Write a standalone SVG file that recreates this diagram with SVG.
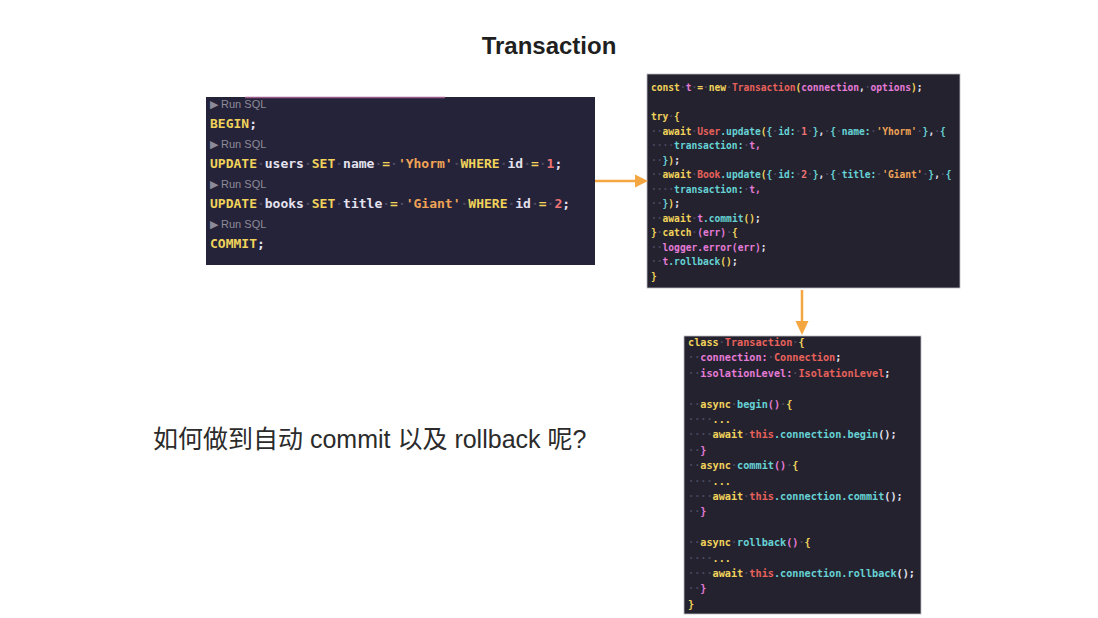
<svg xmlns="http://www.w3.org/2000/svg" width="1098" height="618" viewBox="0 0 1098 618">
<defs>
<style>
.title{font-family:"Liberation Sans","Noto Sans",sans-serif;font-size:24px;font-weight:bold;fill:#1f1f1f}
.q{font-family:"Liberation Sans","Noto Sans CJK SC",sans-serif;font-size:25px;fill:#2b2b2b}
.run{font-family:"Liberation Sans",sans-serif;font-size:11px;fill:#8d8b98}
.box{fill:#25233a}
.box2{fill:#24222f;stroke:#bdbdc4;stroke-width:0.8}
.sql{font-family:"DejaVu Sans Mono",monospace;font-size:13px;font-weight:bold;white-space:pre}
.js{font-family:"DejaVu Sans Mono",monospace;font-size:9.6px;font-weight:bold;white-space:pre}
.cls{font-family:"DejaVu Sans Mono",monospace;font-size:10.2px;font-weight:bold;white-space:pre}
.k{fill:#f1d35b}
.w{fill:#e4e2ee}
.p{fill:#e47bd6}
.r{fill:#e8615b}
.c{fill:#66d2d4}
.o{fill:#f0a355}
.n{fill:#ef7474}
.d{fill:#4a485f}
.arr{stroke:#f4a640;stroke-width:2.5;fill:none}
.head{fill:#f4a640}
</style>
</defs>
<rect width="1098" height="618" fill="#ffffff"/>
<text class="title" x="549" y="54" text-anchor="middle">Transaction</text>

<g id="sql-box">
<rect class="box" x="206" y="97" width="389" height="168"/>
<line x1="245" y1="97.5" x2="445" y2="97.5" stroke="#9a5a8a" stroke-width="1.5"/>
<text class="run" x="210" y="108">▶ Run SQL</text>
<text class="sql" x="210" y="128"><tspan class="k">BEGIN</tspan><tspan class="w">;</tspan></text>
<text class="run" x="210" y="148">▶ Run SQL</text>
<text class="sql" x="210" y="168"><tspan class="k">UPDATE</tspan><tspan class="d">·</tspan><tspan class="w">users</tspan><tspan class="d">·</tspan><tspan class="k">SET</tspan><tspan class="d">·</tspan><tspan class="w">name</tspan><tspan class="d">·</tspan><tspan class="k">=</tspan><tspan class="d">·</tspan><tspan class="o">'Yhorm'</tspan><tspan class="d">·</tspan><tspan class="k">WHERE</tspan><tspan class="d">·</tspan><tspan class="w">id</tspan><tspan class="d">·</tspan><tspan class="k">=</tspan><tspan class="d">·</tspan><tspan class="n">1</tspan><tspan class="w">;</tspan></text>
<text class="run" x="210" y="188">▶ Run SQL</text>
<text class="sql" x="210" y="208"><tspan class="k">UPDATE</tspan><tspan class="d">·</tspan><tspan class="w">books</tspan><tspan class="d">·</tspan><tspan class="k">SET</tspan><tspan class="d">·</tspan><tspan class="w">title</tspan><tspan class="d">·</tspan><tspan class="k">=</tspan><tspan class="d">·</tspan><tspan class="o">'Giant'</tspan><tspan class="d">·</tspan><tspan class="k">WHERE</tspan><tspan class="d">·</tspan><tspan class="w">id</tspan><tspan class="d">·</tspan><tspan class="k">=</tspan><tspan class="d">·</tspan><tspan class="n">2</tspan><tspan class="w">;</tspan></text>
<text class="run" x="210" y="228">▶ Run SQL</text>
<text class="sql" x="210" y="248"><tspan class="k">COMMIT</tspan><tspan class="w">;</tspan></text>
</g>

<g id="js-box">
<rect class="box2" x="647" y="74" width="313" height="214"/>
<text class="js" x="651" y="91"><tspan class="k">const</tspan><tspan class="d">·</tspan><tspan class="p">t</tspan><tspan class="d">·</tspan><tspan class="k">=</tspan><tspan class="d">·</tspan><tspan class="k">new</tspan><tspan class="d">·</tspan><tspan class="r">Transaction</tspan><tspan class="k">(</tspan><tspan class="p">connection</tspan><tspan class="w">,</tspan><tspan class="d">·</tspan><tspan class="p">options</tspan><tspan class="k">)</tspan><tspan class="w">;</tspan></text>
<text class="js" x="651" y="120"><tspan class="k">try</tspan><tspan class="d">·</tspan><tspan class="k">{</tspan></text>
<text class="js" x="651" y="134.5"><tspan class="d">··</tspan><tspan class="k">await</tspan><tspan class="d">·</tspan><tspan class="r">User</tspan><tspan class="c">.update</tspan><tspan class="k">(</tspan><tspan class="c">{</tspan><tspan class="d">·</tspan><tspan class="c">id:</tspan><tspan class="d">·</tspan><tspan class="n">1</tspan><tspan class="d">·</tspan><tspan class="c">}</tspan><tspan class="w">,</tspan><tspan class="d">·</tspan><tspan class="c">{</tspan><tspan class="d">·</tspan><tspan class="c">name:</tspan><tspan class="d">·</tspan><tspan class="o">'Yhorm'</tspan><tspan class="d">·</tspan><tspan class="c">}</tspan><tspan class="w">,</tspan><tspan class="d">·</tspan><tspan class="c">{</tspan></text>
<text class="js" x="651" y="149"><tspan class="d">····</tspan><tspan class="c">transaction:</tspan><tspan class="d">·</tspan><tspan class="p">t,</tspan></text>
<text class="js" x="651" y="163.5"><tspan class="d">··</tspan><tspan class="c">}</tspan><tspan class="k">)</tspan><tspan class="w">;</tspan></text>
<text class="js" x="651" y="178"><tspan class="d">··</tspan><tspan class="k">await</tspan><tspan class="d">·</tspan><tspan class="r">Book</tspan><tspan class="c">.update</tspan><tspan class="k">(</tspan><tspan class="c">{</tspan><tspan class="d">·</tspan><tspan class="c">id:</tspan><tspan class="d">·</tspan><tspan class="n">2</tspan><tspan class="d">·</tspan><tspan class="c">}</tspan><tspan class="w">,</tspan><tspan class="d">·</tspan><tspan class="c">{</tspan><tspan class="d">·</tspan><tspan class="c">title:</tspan><tspan class="d">·</tspan><tspan class="o">'Giant'</tspan><tspan class="d">·</tspan><tspan class="c">}</tspan><tspan class="w">,</tspan><tspan class="d">·</tspan><tspan class="c">{</tspan></text>
<text class="js" x="651" y="192.5"><tspan class="d">····</tspan><tspan class="c">transaction:</tspan><tspan class="d">·</tspan><tspan class="p">t,</tspan></text>
<text class="js" x="651" y="207"><tspan class="d">··</tspan><tspan class="c">}</tspan><tspan class="k">)</tspan><tspan class="w">;</tspan></text>
<text class="js" x="651" y="221.5"><tspan class="d">··</tspan><tspan class="k">await</tspan><tspan class="d">·</tspan><tspan class="p">t</tspan><tspan class="c">.commit</tspan><tspan class="k">()</tspan><tspan class="w">;</tspan></text>
<text class="js" x="651" y="236"><tspan class="k">}</tspan><tspan class="d">·</tspan><tspan class="k">catch</tspan><tspan class="d">·</tspan><tspan class="p">(err)</tspan><tspan class="d">·</tspan><tspan class="k">{</tspan></text>
<text class="js" x="651" y="250.5"><tspan class="d">··</tspan><tspan class="p">logger.error(err)</tspan><tspan class="w">;</tspan></text>
<text class="js" x="651" y="265"><tspan class="d">··</tspan><tspan class="p">t</tspan><tspan class="c">.rollback</tspan><tspan class="k">()</tspan><tspan class="w">;</tspan></text>
<text class="js" x="651" y="279.5"><tspan class="k">}</tspan></text>
</g>

<g id="class-box">
<rect class="box2" x="684" y="336" width="237" height="278"/>
<text class="cls" x="688" y="346"><tspan class="k">class</tspan><tspan class="d">·</tspan><tspan class="r">Transaction</tspan><tspan class="d">·</tspan><tspan class="k">{</tspan></text>
<text class="cls" x="688" y="361.4"><tspan class="d">··</tspan><tspan class="p">connection:</tspan><tspan class="d">·</tspan><tspan class="r">Connection</tspan><tspan class="w">;</tspan></text>
<text class="cls" x="688" y="376.8"><tspan class="d">··</tspan><tspan class="p">isolationLevel:</tspan><tspan class="d">·</tspan><tspan class="r">IsolationLevel</tspan><tspan class="w">;</tspan></text>
<text class="cls" x="688" y="407.6"><tspan class="d">··</tspan><tspan class="k">async</tspan><tspan class="d">·</tspan><tspan class="c">begin</tspan><tspan class="p">()</tspan><tspan class="d">·</tspan><tspan class="k">{</tspan></text>
<text class="cls" x="688" y="423"><tspan class="d">····</tspan><tspan class="k">...</tspan></text>
<text class="cls" x="688" y="438.4"><tspan class="d">····</tspan><tspan class="k">await</tspan><tspan class="d">·</tspan><tspan class="r">this</tspan><tspan class="c">.connection.begin</tspan><tspan class="w">();</tspan></text>
<text class="cls" x="688" y="453.8"><tspan class="d">··</tspan><tspan class="p">}</tspan></text>
<text class="cls" x="688" y="469.2"><tspan class="d">··</tspan><tspan class="k">async</tspan><tspan class="d">·</tspan><tspan class="c">commit</tspan><tspan class="p">()</tspan><tspan class="d">·</tspan><tspan class="k">{</tspan></text>
<text class="cls" x="688" y="484.6"><tspan class="d">····</tspan><tspan class="k">...</tspan></text>
<text class="cls" x="688" y="500"><tspan class="d">····</tspan><tspan class="k">await</tspan><tspan class="d">·</tspan><tspan class="r">this</tspan><tspan class="c">.connection.commit</tspan><tspan class="w">();</tspan></text>
<text class="cls" x="688" y="515.4"><tspan class="d">··</tspan><tspan class="p">}</tspan></text>
<text class="cls" x="688" y="546.2"><tspan class="d">··</tspan><tspan class="k">async</tspan><tspan class="d">·</tspan><tspan class="c">rollback</tspan><tspan class="p">()</tspan><tspan class="d">·</tspan><tspan class="k">{</tspan></text>
<text class="cls" x="688" y="561.6"><tspan class="d">····</tspan><tspan class="k">...</tspan></text>
<text class="cls" x="688" y="577"><tspan class="d">····</tspan><tspan class="k">await</tspan><tspan class="d">·</tspan><tspan class="r">this</tspan><tspan class="c">.connection.rollback</tspan><tspan class="w">();</tspan></text>
<text class="cls" x="688" y="592.4"><tspan class="d">··</tspan><tspan class="p">}</tspan></text>
<text class="cls" x="688" y="607.8"><tspan class="k">}</tspan></text>
</g>

<g id="question">
<text class="q" x="153" y="448">如何做到自动 commit 以及 rollback 呢?</text>
</g>

<g id="connectors">
<line class="arr" x1="595" y1="181" x2="637" y2="181"/>
<polygon class="head" points="635,174.5 648,181 635,187.5"/>
<line class="arr" x1="802" y1="290" x2="802" y2="323"/>
<polygon class="head" points="795.5,321 802,335 808.5,321"/>
</g>
</svg>
